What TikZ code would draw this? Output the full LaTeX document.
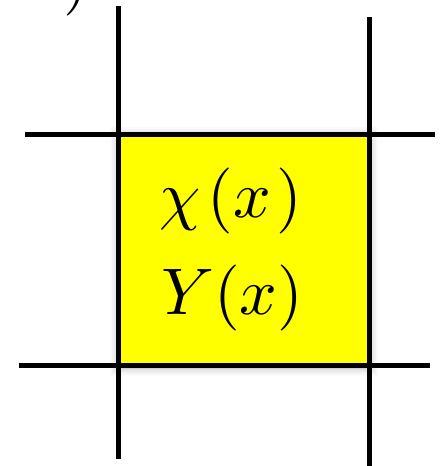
\documentclass[tikz,border=0pt]{standalone}
\usetikzlibrary{calc}
\definecolor{cellyellow}{RGB}{255,255,0}
\begin{document}
\begin{tikzpicture}[x=1pt,y=1pt,
  gridline/.style={line width=5pt,line cap=butt,black},
  cell/.style={draw=none,fill=cellyellow,minimum width=250.5pt,minimum height=231pt,inner sep=0pt,anchor=south west},
  bigmath/.style={inner sep=0pt,scale=6.6}]
\useasboundingbox (0,0) rectangle (443,466);
\clip (0,0) rectangle (443,466);
% shadow
\foreach \d/\o in {9/0.02,7/0.03,5/0.04,3/0.05,1.5/0.06}{
  \fill[black,opacity=\o] (118.5-\d,100.5-\d-2) rectangle (369+\d,331.5+\d-2);
}
\node[cell] (box) at (118.5,100.5) {};
% texts
\node[bigmath,anchor=base west] (chi) at (158,248) {$\chi\mkern2mu(x\mkern1.3mu)$};
\node[bigmath,anchor=base west] (Y) at (160,151) {$Y(x)$};
\node[bigmath,anchor=base west] (paren) at (62,466) {$)$};
% grid lines
\coordinate (lt) at (118.5,460);
\coordinate (lb) at (118.5,7);
\coordinate (rt) at (369,449);
\coordinate (rb) at (369,-2);
\coordinate (tl) at (25,331.5);
\coordinate (tr) at (435,331.5);
\coordinate (bl) at (19,100.5);
\coordinate (br) at (430,100.5);
\draw[gridline] (lt) -- (lb);
\draw[gridline] (rt) -- (rb);
\draw[gridline] (tl) -- (tr);
\draw[gridline] (bl) -- (br);
\end{tikzpicture}
\end{document}
